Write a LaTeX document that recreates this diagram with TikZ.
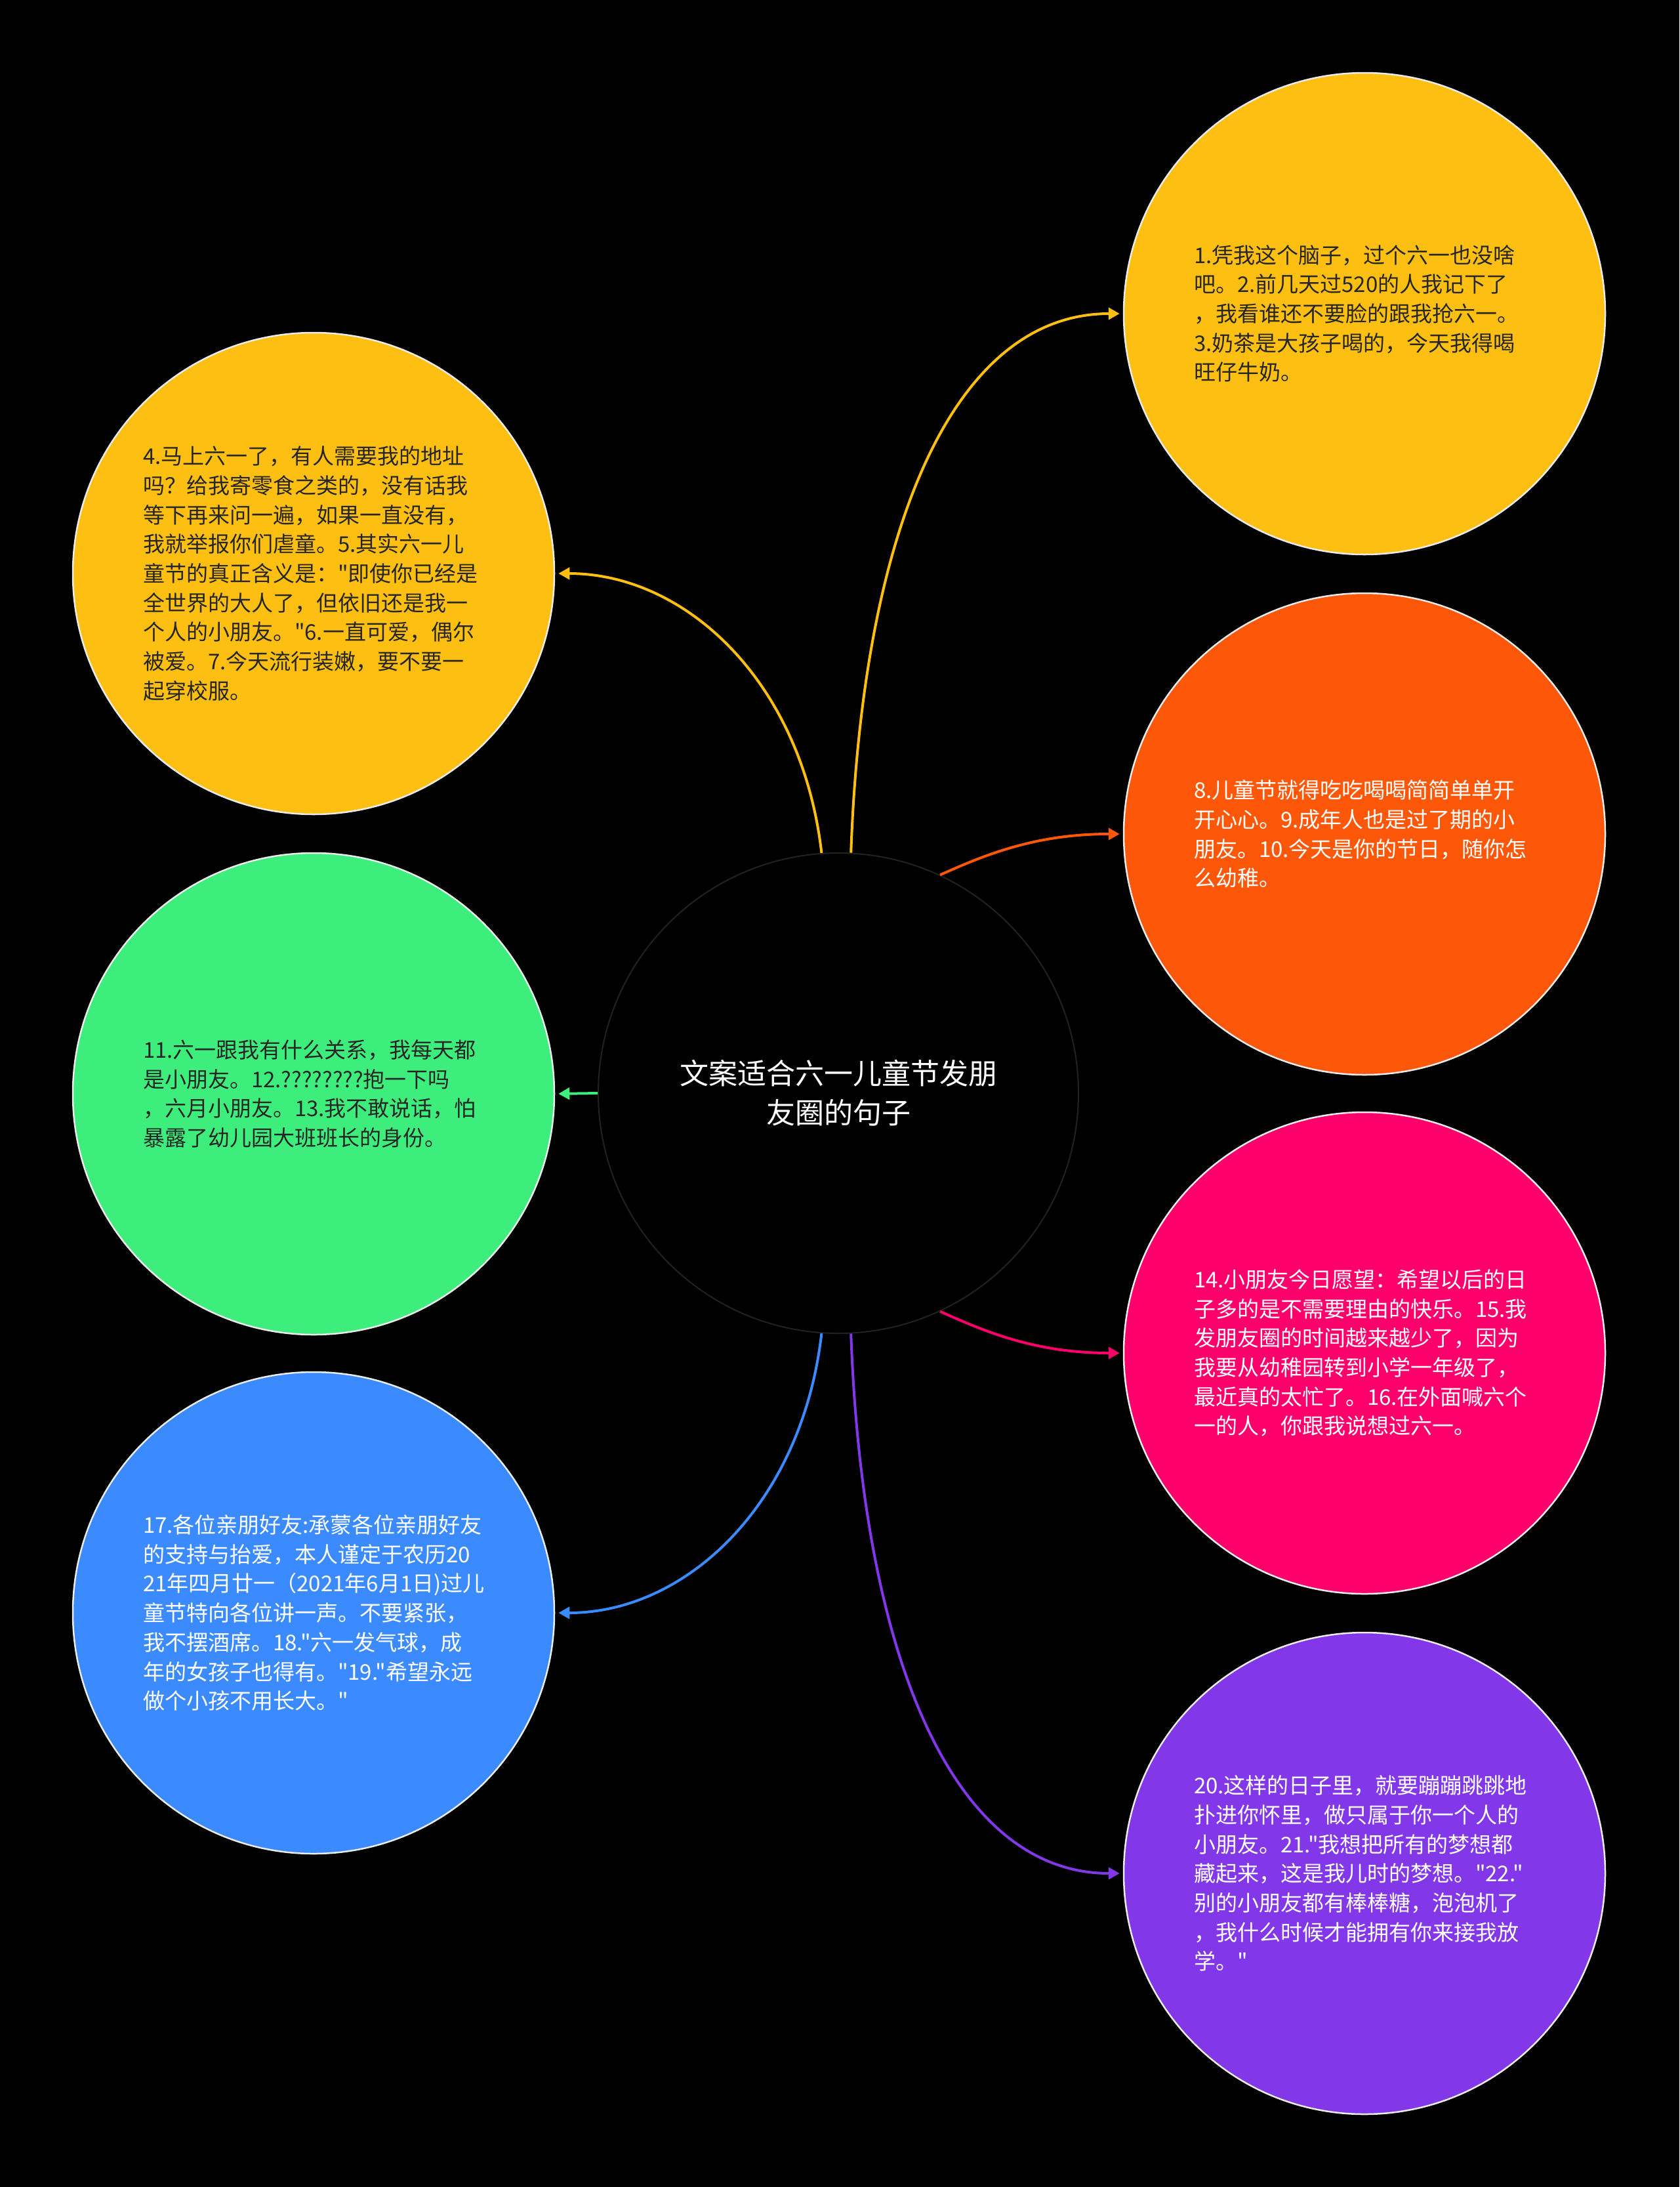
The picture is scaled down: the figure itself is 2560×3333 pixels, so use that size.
\documentclass[tikz,border=0pt]{standalone}
\usepackage{fontspec}
\newfontfamily\cjk{Noto Sans CJK SC}
\usetikzlibrary{arrows.meta}
\definecolor{cyel}{HTML}{FEBF13}
\definecolor{corg}{HTML}{FD580A}
\definecolor{cgrn}{HTML}{3EEE7C}
\definecolor{cpnk}{HTML}{FE006C}
\definecolor{cblu}{HTML}{3C8BFE}
\definecolor{cpur}{HTML}{8238E9}
\definecolor{cdark}{HTML}{262626}
\definecolor{crim}{HTML}{222222}
\begin{document}
\begin{tikzpicture}[x=1pt,y=-1pt,
  bubble/.style={circle, minimum size=734pt, inner sep=0pt, draw=white!92!black, line width=2.5pt,
    text width=520pt, align=left, font=\cjk\fontsize{33}{44.7}\selectfont},
  hub/.style={circle, minimum size=732pt, inner sep=0pt, draw=crim, line width=2pt, fill=black,
    text=white, align=center, font=\cjk\fontsize{44}{60}\selectfont},
  conn/.style={line width=4pt, -{Triangle[length=17pt,width=18pt]}, shorten >=5pt},
]
\fill[black] (0,0) rectangle (2560,3333);
\useasboundingbox (0,0) rectangle (2560,3333);

\node[hub] (c) at (1278,1666) {文案适合六一儿童节发朋\\友圈的句子};

\node[bubble, fill=cyel, text=cdark] (n1) at (2080,478) {1.凭我这个脑子，过个六一也没啥\\吧。2.前几天过520的人我记下了\\，我看谁还不要脸的跟我抢六一。\\3.奶茶是大孩子喝的，今天我得喝\\旺仔牛奶。};

\node[bubble, fill=cyel, text=cdark] (n2) at (478,874) {4.马上六一了，有人需要我的地址\\吗？给我寄零食之类的，没有话我\\等下再来问一遍，如果一直没有，\\我就举报你们虐童。5.其实六一儿\\童节的真正含义是："即使你已经是\\全世界的大人了，但依旧还是我一\\个人的小朋友。"6.一直可爱，偶尔\\被爱。7.今天流行装嫩，要不要一\\起穿校服。};

\node[bubble, fill=corg, text=white] (n3) at (2080,1271) {8.儿童节就得吃吃喝喝简简单单开\\开心心。9.成年人也是过了期的小\\朋友。10.今天是你的节日，随你怎\\么幼稚。};

\node[bubble, fill=cgrn, text=cdark] (n4) at (478,1667) {11.六一跟我有什么关系，我每天都\\是小朋友。12.????????抱一下吗\\，六月小朋友。13.我不敢说话，怕\\暴露了幼儿园大班班长的身份。};

\node[bubble, fill=cpnk, text=white] (n5) at (2080,2062) {14.小朋友今日愿望：希望以后的日\\子多的是不需要理由的快乐。15.我\\发朋友圈的时间越来越少了，因为\\我要从幼稚园转到小学一年级了，\\最近真的太忙了。16.在外面喊六个\\一的人，你跟我说想过六一。};

\node[bubble, fill=cblu, text=white] (n6) at (478,2458) {17.各位亲朋好友:承蒙各位亲朋好友\\的支持与抬爱，本人谨定于农历20\\21年四月廿一（2021年6月1日)过儿\\童节特向各位讲一声。不要紧张，\\我不摆酒席。18."六一发气球，成\\年的女孩子也得有。"19."希望永远\\做个小孩不用长大。"};

\node[bubble, fill=cpur, text=white] (n7) at (2080,2855) {20.这样的日子里，就要蹦蹦跳跳地\\扑进你怀里，做只属于你一个人的\\小朋友。21."我想把所有的梦想都\\藏起来，这是我儿时的梦想。"22."\\别的小朋友都有棒棒糖，泡泡机了\\，我什么时候才能拥有你来接我放\\学。"};

\draw[conn, cyel] (c.87.7) .. controls +(18,-498) and +(-257,0) .. (n1.west);
\draw[conn, cyel] (c.94.7) .. controls +(-30,-260) and +(200,0) .. (n2.east);
\draw[conn, corg] (c.65.6) .. controls +(69,-31) and +(-133,0) .. (n3.west);
\draw[conn, cgrn] (c.west) -- (n4.east);
\draw[conn, cpnk] (c.-65.6) .. controls +(69,31) and +(-133,0) .. (n5.west);
\draw[conn, cblu] (c.-94.7) .. controls +(-30,260) and +(200,0) .. (n6.east);
\draw[conn, cpur] (c.-87.7) .. controls +(18,498) and +(-257,0) .. (n7.west);
\end{tikzpicture}
\end{document}
